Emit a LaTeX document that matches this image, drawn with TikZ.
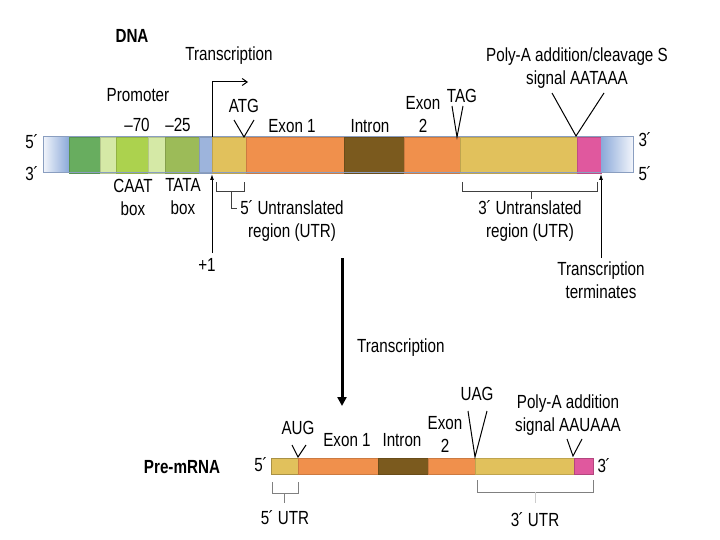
\documentclass[tikz,border=0pt]{standalone}
\usepackage{fontspec}
\setmainfont{Liberation Sans}[FakeStretch=0.8]
\usetikzlibrary{arrows.meta}
\definecolor{dkgreen}{HTML}{68AD5F}
\definecolor{palegreen}{HTML}{D5E9A6}
\definecolor{limec}{HTML}{ACD24E}
\definecolor{olivec}{HTML}{9CBB58}
\definecolor{ltblue}{HTML}{9DB4DC}
\definecolor{yellowc}{HTML}{E1C15C}
\definecolor{orangec}{HTML}{F0904C}
\definecolor{brownc}{HTML}{7B5A1E}
\definecolor{pinkc}{HTML}{E0589E}
\definecolor{gradblue}{HTML}{8BA9D9}
\definecolor{gradwhite}{HTML}{F2F5FB}
\definecolor{barline}{HTML}{8A9EC0}
\newcommand{\pr}{\kern-0.5pt´}
\begin{document}
\begin{tikzpicture}[x=1pt,y=-1pt,
  lbl/.style={inner sep=0,font=\fontsize{19}{23}\selectfont,align=center},
  blbl/.style={inner sep=0,font=\fontsize{19}{23}\selectfont\bfseries},
  seg/.style={fill=#1,draw=#1!85!black,line width=0.6},
  vmark/.style={draw=black,line width=1},
  brk/.style={draw=black!75,line width=0.9},
  brkg/.style={draw=black!50,line width=0.9}]
\useasboundingbox (0,0) rectangle (720,540);

% ---------------- DNA bar ----------------
\shade[left color=gradwhite,right color=gradblue] (43,137) rectangle (69,173);
\draw[seg=dkgreen] (69,137) rectangle (100,173);
\draw[seg=palegreen] (100,137) rectangle (116,173);
\draw[seg=limec] (116,137) rectangle (148,173);
\draw[seg=palegreen] (148,137) rectangle (165,173);
\draw[seg=olivec] (165,137) rectangle (199,173);
\draw[seg=ltblue] (199,137) rectangle (212,173);
\draw[seg=yellowc] (212,137) rectangle (246,173);
\draw[seg=orangec] (246,137) rectangle (344,173);
\draw[seg=brownc] (344,137) rectangle (404,173);
\draw[seg=orangec] (404,137) rectangle (460,173);
\draw[seg=yellowc] (460,137) rectangle (577,173);
\draw[seg=pinkc] (577,137) rectangle (601,173);
\shade[left color=gradblue,right color=gradwhite] (601,137) rectangle (633,173);
\draw[barline,line width=1] (43,137) rectangle (633,173);

% DNA labels
\node[blbl] (dna) at (132,36) {DNA};
\node[lbl] (trtop) at (229,56) {Transcription};
\node[lbl] (prom) at (138,95) {Promoter};
\node[lbl] (m70) at (137,125) {–70};
\node[lbl] (m25) at (178,125) {–25};
\node[lbl] (atg) at (244,106) {ATG};
\node[lbl] (ex1) at (292,126) {Exon 1};
\node[lbl] (intr) at (370,126) {Intron};
\node[lbl] (ex2) at (423,114) {Exon\\2};
\node[lbl] (tag) at (462,96) {TAG};
\node[lbl] (polya) at (577,68) {Poly-A addition/cleavage S\\signal AATAAA};
\node[lbl] (l5) at (32,142) {5\pr};
\node[lbl] (l3) at (32,174) {3\pr};
\node[lbl] (r3) at (645,140) {3\pr};
\node[lbl] (r5) at (645,174) {5\pr};
\node[lbl] (caat) at (133,197) {CAAT\\box};
\node[lbl] (tata) at (183,197) {TATA\\box};
\node[lbl] (plus1) at (207,265) {+1};
\node[lbl] (utr5) at (292,221) {5\pr{} Untranslated\\region (UTR)};
\node[lbl] (utr3) at (530,221) {3\pr{} Untranslated\\region (UTR)};
\node[lbl] (term) at (601,280) {Transcription\\terminates};

% transcription start arrows
\coordinate (tss) at (212,137);
\coordinate (tssb) at (212,174);
\draw[line width=1,-{Straight Barb[length=5pt,width=7pt]}] (tss) -- (212,82) -- (248,82);
\draw[line width=1,-{Latex[length=6pt,width=4pt]}] (212,253) -- (tssb);
\draw[line width=0.8,-{Latex[length=6pt,width=4pt]}] (601,258) -- (601,174);

% V markers
\draw[vmark] (234,120) -- (244,137) -- (254,120);
\draw[vmark] (452,106) -- (457,137) -- (463,106);
\draw[vmark] (552,93) -- (576,136) -- (604,93);

% brackets
\draw[brk] (216,182) -- (216,191) -- (244,191) -- (244,182);
\draw[brk] (231,191) -- (231,208) -- (237,208);
\draw[brk] (462,182) -- (462,191) -- (597,191) -- (597,182);
\draw[brk] (531,191) -- (531,199);

% big arrow
\draw[line width=3,-{Triangle[length=9pt,width=9pt]}] (342,258) -- (342,406);
\node[lbl,anchor=west] (trmid) at (357,348) {Transcription};

% ---------------- pre-mRNA ----------------
\draw[fill=yellowc,draw=yellowc!75!black,line width=0.7] (271,458) rectangle (298,474);
\draw[seg=orangec] (298,458) rectangle (378,474);
\draw[seg=brownc] (378,458) rectangle (428,474);
\draw[seg=orangec] (428,458) rectangle (475,474);
\draw[fill=yellowc,draw=yellowc!85!black,line width=0.6] (475,458) rectangle (574,474);
\draw[fill=pinkc,draw=pinkc!80!black,line width=0.6] (574,458) rectangle (593,474);

\node[blbl] (pre) at (182,467) {Pre-mRNA};
\node[lbl] (p5) at (261,465) {5\pr};
\node[lbl] (aug) at (298,428) {AUG};
\node[lbl] (pex1) at (347,440) {Exon 1};
\node[lbl] (pintr) at (402,440) {Intron};
\node[lbl] (pex2) at (445,434) {Exon\\2};
\node[lbl] (uag) at (477,394) {UAG};
\node[lbl] (ppolya) at (568,415) {Poly-A addition\\signal AAUAAA};
\node[lbl] (p3) at (604,466) {3\pr};
\node[lbl] (putr5) at (285,518) {5\pr{} UTR};
\node[lbl] (putr3) at (535,520) {3\pr{} UTR};

\draw[vmark] (292,445) -- (298,457) -- (306,445);
\draw[vmark] (468,411) -- (475,457) -- (487,411);
\draw[vmark] (567,439) -- (573,456) -- (582,439);

\draw[brkg] (272,482) -- (272,493) -- (298,493) -- (298,482);
\draw[brkg] (284,493) -- (284,503);
\draw[brkg] (477,480) -- (477,492) -- (593,492) -- (593,480);
\draw[draw=black!20,line width=0.9] (535,492) -- (535,503);
\end{tikzpicture}
\end{document}
